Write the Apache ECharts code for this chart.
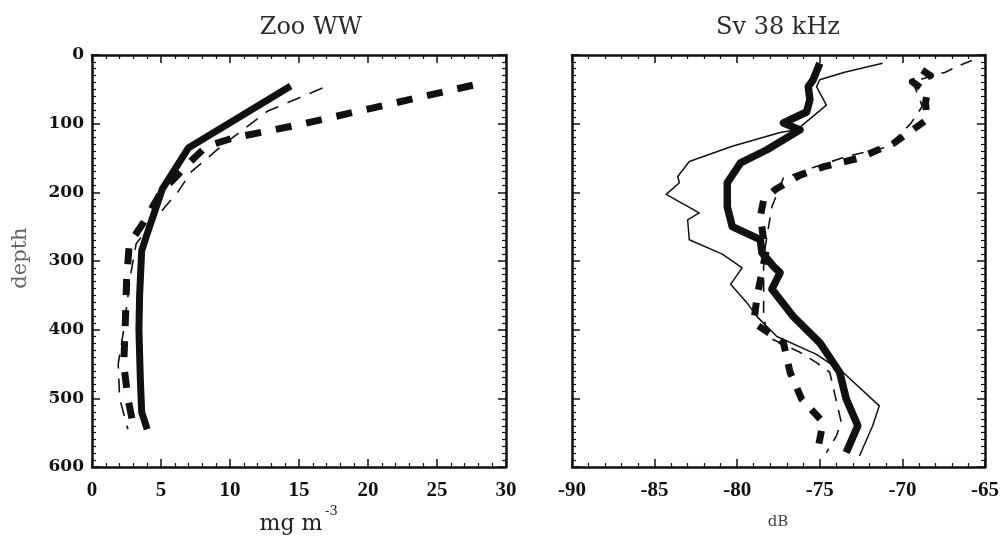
<!DOCTYPE html>
<html>
  <head>
    <meta charset="utf-8">
    <title>Zoo WW / Sv 38 kHz</title>
    <script src="https://cdn.jsdelivr.net/npm/echarts@6/dist/echarts.min.js"></script>
    <style>
      body { margin: 0; background: #fff; }
      #main { width: 1003px; height: 544px; }
    </style>
  </head>
  <body>
    <div id="main"></div>
    <script type="text/javascript">
      // left panel: zooplankton wet weight, [mg m-3, depth]
      var zooSolid = [[14.4, 45], [7.0, 135], [5.1, 195], [4.0, 260], [3.6, 285], [3.45, 350], [3.4, 400], [3.5, 470], [3.6, 520], [4.0, 545]];
      var zooDashThick = [[27.6, 44], [14.9, 102], [10.2, 121], [8.3, 133], [7.4, 150], [5.0, 200], [3.7, 245], [2.7, 275], [2.5, 330], [2.4, 400], [2.3, 450], [2.6, 500], [2.9, 530]];
      var zooDashThin = [[16.7, 48], [12.7, 82], [9.3, 134], [7.2, 170], [6.2, 200], [4.5, 240], [3.2, 275], [2.8, 320], [2.3, 400], [1.9, 450], [2.0, 500], [2.6, 545]];

      // right panel: Sv 38 kHz, [dB, depth]
      var svSolidThick = [[-75.0, 12], [-75.4, 36], [-75.7, 46], [-75.6, 65], [-75.8, 83], [-77.2, 99], [-76.2, 109], [-78.2, 138], [-79.8, 157], [-80.6, 186], [-80.6, 221], [-80.3, 250], [-78.6, 269], [-78.5, 288], [-77.8, 308], [-77.4, 317], [-77.9, 341], [-76.6, 381], [-75.0, 419], [-73.8, 462], [-73.4, 501], [-72.7, 540], [-73.4, 579]];
      var svSolidThin = [[-71.2, 12], [-73.5, 25], [-75.0, 36], [-75.2, 46], [-74.6, 73], [-76.4, 109], [-77.4, 113], [-80.3, 133], [-82.9, 155], [-83.6, 177], [-83.5, 186], [-84.3, 203], [-82.3, 230], [-83.0, 240], [-82.9, 269], [-80.9, 290], [-79.7, 310], [-80.4, 334], [-79.4, 361], [-78.8, 381], [-77.6, 410], [-75.2, 436], [-73.6, 462], [-71.4, 511], [-71.8, 540], [-72.6, 584]];
      var svDashThick = [[-68.8, 22], [-68.3, 30], [-69.4, 39], [-68.5, 55], [-68.6, 70], [-68.5, 94], [-70.5, 128], [-72.6, 150], [-74.8, 163], [-76.2, 175], [-77.7, 196], [-78.4, 211], [-78.6, 235], [-78.4, 269], [-78.2, 280], [-78.8, 352], [-79.0, 390], [-77.2, 419], [-76.8, 462], [-76.1, 501], [-74.8, 535], [-75.2, 584]];
      var svDashThin = [[-65.8, 8], [-66.7, 17], [-67.4, 25], [-69.4, 39], [-69.0, 61], [-68.8, 75], [-69.5, 100], [-70.9, 134], [-73.4, 148], [-75.4, 164], [-77.2, 179], [-77.9, 221], [-78.1, 250], [-78.3, 279], [-78.4, 308], [-78.4, 375], [-78.2, 410], [-76.2, 433], [-75.2, 448], [-74.4, 462], [-73.7, 535], [-74.0, 555], [-74.6, 579]];

      var ink = '#111';

      // one axis, ticks inward, frame line
      function axis(grid, pos, min, max, step, minor, labelStyle) {
        return {
          type: 'value', gridIndex: grid, position: pos,
          min: min, max: max, interval: step,
          inverse: (pos == 'left' || pos == 'right'),
          axisLine: { show: true, onZero: false, lineStyle: { color: ink, width: 2.5 } },
          axisTick: { show: true, inside: true, length: 8, lineStyle: { color: ink, width: 1.5 } },
          minorTick: { show: true, splitNumber: minor, length: 4, lineStyle: { color: ink, width: 1.2 } },
          splitLine: { show: false },
          axisLabel: labelStyle ? labelStyle : { show: false }
        };
      }

      var xLab = { show: true, margin: 13, color: ink, fontFamily: 'Liberation Serif', fontWeight: 'bold', fontSize: 21 };
      var yLab = { show: true, margin: 8, color: ink, fontFamily: 'DejaVu Serif', fontWeight: 'bold', fontSize: 17 };

      function line(xi, yi, data, width, dash) {
        return {
          type: 'line', xAxisIndex: xi, yAxisIndex: yi, data: data,
          symbol: 'none', showSymbol: false, silent: true,
          lineStyle: { color: ink, width: width, type: dash ? dash : 'solid', cap: 'butt', join: 'round' }
        };
      }

      var chart = echarts.init(document.getElementById('main'));
      chart.setOption({
        animation: false,
        backgroundColor: '#fff',
        grid: [
          { left: 92, top: 55, width: 414, height: 412 },
          { left: 572, top: 55, width: 413, height: 412 }
        ],
        xAxis: [
          axis(0, 'bottom', 0, 30, 5, 5, xLab),
          axis(0, 'top', 0, 30, 5, 5),
          axis(1, 'bottom', -90, -65, 5, 5, xLab),
          axis(1, 'top', -90, -65, 5, 5)
        ],
        yAxis: [
          axis(0, 'left', 0, 600, 100, 10, yLab),
          axis(0, 'right', 0, 600, 100, 10),
          axis(1, 'left', 0, 600, 100, 10),
          axis(1, 'right', 0, 600, 100, 10)
        ],
        series: [
          line(0, 0, zooDashThin, 1.6, [14, 10]),
          line(0, 0, zooDashThick, 7, [16, 15]),
          line(0, 0, zooSolid, 7),
          line(2, 2, svSolidThin, 1.5),
          line(2, 2, svDashThin, 1.6, [12, 9]),
          line(2, 2, svDashThick, 7, [13, 13]),
          line(2, 2, svSolidThick, 7.5)
        ],
        graphic: [
          { type: 'text', x: 311, y: 28, style: { text: 'Zoo WW', fill: '#2a2a2a', fontFamily: 'DejaVu Serif', fontSize: 24, align: 'center', verticalAlign: 'middle' } },
          { type: 'text', x: 778, y: 28, style: { text: 'Sv 38 kHz', fill: '#2a2a2a', fontFamily: 'DejaVu Serif', fontSize: 24, align: 'center', verticalAlign: 'middle' } },
          { type: 'text', x: 21, y: 258, rotation: Math.PI / 2, style: { text: 'depth', fill: '#666', fontFamily: 'DejaVu Serif', fontSize: 21, align: 'center', verticalAlign: 'middle' } },
          { type: 'text', x: 291, y: 524, style: { text: 'mg m', fill: '#222', fontFamily: 'DejaVu Serif', fontSize: 22, align: 'center', verticalAlign: 'middle' } },
          { type: 'text', x: 325, y: 512, style: { text: '-3', fill: '#222', fontFamily: 'DejaVu Serif', fontSize: 13, align: 'left', verticalAlign: 'middle' } },
          { type: 'text', x: 778, y: 522, style: { text: 'dB', fill: '#444', fontFamily: 'DejaVu Serif', fontSize: 15, align: 'center', verticalAlign: 'middle' } }
        ]
      });
    </script>
  </body>
</html>
